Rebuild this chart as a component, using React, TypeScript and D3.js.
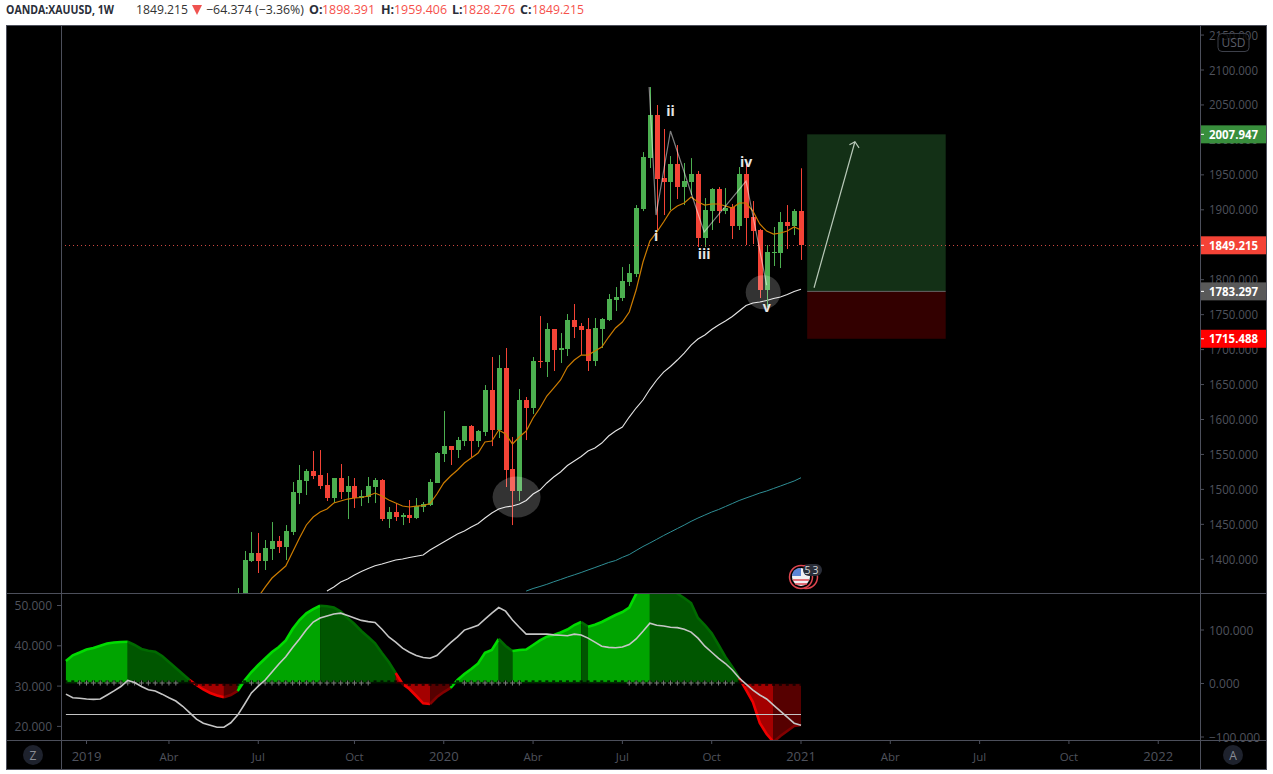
import React from "react";
import * as d3 from "d3";

const open_ = [1313.1,1334.6,1397.5,1409,1397.5,1414.7,1426.1,1417.6,1439,1494.8,1512,1526.3,1520.6,1506.2,1487.7,1516.3,1496.2,1504.8,1487.7,1489.1,1503.4,1513.4,1457.6,1467.6,1460.5,1463.3,1459,1474.8,1477.6,1509.2,1550.6,1562,1556.3,1569.2,1590.7,1569.2,1582.1,1642.2,1585,1673.7,1529.1,1497.7,1627.9,1616.4,1683.7,1682.2,1729.4,1699.4,1700.8,1742.3,1733.7,1729.4,1683.7,1729.4,1742.3,1771,1773.8,1796.7,1808.1,1901.1,1974,2035.6,1945.4,1939.7,1965.5,1932.6,1939.7,1951.2,1859.6,1898.2,1929.7,1898.2,1904,1876.8,1951.2,1889.7,1871.1,1785.2,1838.2,1838.2,1882.5,1876.8,1898.391];
const high = [1358.9,1411.9,1439,1437.6,1427.6,1453.3,1433.3,1449,1510.6,1534.9,1529.1,1554.9,1556.3,1523.4,1516.3,1536.3,1519.1,1516.3,1499.1,1517.7,1516.3,1514.8,1474.8,1480.5,1466.2,1484.8,1487.7,1482,1514.8,1553.5,1612.1,1562,1575,1590.7,1592.1,1585,1649.3,1689.4,1692.2,1702.3,1575,1643.6,1632.2,1689.4,1748,1738,1729.4,1723.7,1750.9,1765.2,1738,1745.2,1745.2,1745.2,1779.5,1789.5,1818.1,1822.4,1906.8,1982.6,2075.6,2049.9,2015.6,1976.9,1992.7,1966.9,1974,1955.5,1916.8,1931.1,1932.6,1931.1,1908.3,1961.2,1965.5,1912.5,1872.5,1849.6,1875.4,1896.8,1906.8,1901.1,1959.406];
const low = [1298.8,1324.6,1396.1,1380.4,1384.7,1399,1409,1399,1434.7,1479,1492,1514.8,1500.5,1483.4,1480.5,1486.2,1457.6,1473.4,1476.2,1480.5,1480.5,1454.8,1444.8,1454.8,1449,1451.9,1457.6,1467.6,1476.2,1509.2,1539.2,1534.9,1544.9,1562,1546.3,1560.6,1576.4,1562,1573.5,1503.4,1449,1483.4,1570.6,1607.8,1673.7,1660.8,1669.4,1680.8,1690.8,1716.6,1692.2,1669.4,1676.5,1702.3,1740.9,1755.2,1769.5,1791,1803.8,1898.2,1959.8,1871.1,1892.5,1899.7,1915.4,1906.8,1921.1,1846.8,1846.8,1871.1,1881.1,1893.9,1858.2,1871.1,1849.6,1851,1773.8,1760.9,1819.6,1816.7,1843.9,1863.9,1828.276];
const close_ = [1341.7,1399,1409,1397.5,1416.1,1426.1,1417.6,1440.4,1496.2,1513.4,1526.3,1519.1,1504.8,1487.7,1516.3,1496.2,1504.8,1487.7,1490.5,1504.8,1513.4,1457.6,1467.6,1460.5,1463.3,1459,1476.2,1479,1510.6,1552,1562,1556.3,1570.6,1590.7,1569.2,1583.5,1642.2,1585,1673.7,1527.7,1497.7,1627.9,1616.4,1683.7,1682.2,1729.4,1699.4,1702.3,1742.3,1732.3,1728,1683.7,1730.9,1743.8,1772.4,1775.2,1798.1,1809.6,1902.5,1975.5,2035.6,1944,1939.7,1965.5,1932.6,1941.2,1951.2,1859.6,1899.7,1929.7,1898.2,1902.5,1876.8,1951.2,1888.2,1869.6,1785.2,1839.6,1839.6,1882.5,1876.8,1898.2,1849.215];

const maFast = [1346,1360.3,1373.2,1381.8,1390.4,1410.4,1430.4,1449.1,1460.5,1467.6,1471.9,1480.5,1483.4,1486.2,1487.7,1488.4,1490.5,1494.8,1490.5,1484.8,1480.5,1476.2,1474.8,1476.2,1476.9,1479.8,1493.4,1509.2,1519.1,1527.7,1537.7,1544.9,1552,1567.8,1569.2,1585,1579.2,1565,1575,1583.5,1602.1,1616.4,1633.6,1645,1656.5,1675.1,1685.1,1692.2,1692.2,1698,1703.7,1718,1730.9,1739.5,1753.8,1785.2,1825.3,1855.3,1868.2,1882.5,1898.2,1905.4,1909.7,1918.3,1911.1,1906.8,1908.3,1908.3,1905.4,1902.5,1909.7,1909.7,1898.2,1879.7,1869.6,1865.3,1866.8,1869.6,1875.4,1871.1];
const maMid = [1354.6,1360.3,1367.5,1371.8,1377.5,1382.5,1386.8,1390.8,1393.2,1396.1,1399,1400.4,1402.5,1404.3,1406.1,1413.3,1419,1424.7,1430.4,1436.2,1440.4,1446.2,1451.2,1459,1466.2,1471.9,1474.8,1476.2,1479,1484.1,1493.4,1499.1,1509.2,1517.7,1524.9,1534.2,1540.6,1547,1554.9,1559.2,1566.3,1576.4,1583.5,1589.2,1603.5,1616.4,1627.9,1643.2,1656.5,1667.9,1675.8,1685.1,1695.1,1706.5,1715.1,1720.9,1728.7,1735.2,1740.9,1747.3,1755.2,1763.1,1766.6,1768.1,1770.2,1773.1,1775.2,1778.8,1783.1,1786.2];
const maSlow = [1354.6,1358.2,1361.1,1364.2,1367.8,1371.1,1374.6,1377.8,1381.1,1384.7,1388.2,1391.8,1395.4,1398.2,1402.8,1406.8,1412.6,1418.3,1423.3,1428.6,1434,1439,1444,1449,1454.3,1459,1463.3,1467.6,1471.2,1475.5,1479.8,1484.1,1487.7,1491.2,1494.8,1497.7,1501.3,1504.8,1508.4,1512,1516.7];

const momentum = [42.1,52.7,57.9,63.5,66.3,70.5,74.8,76.6,77.6,78.1,72,64.5,61.3,59.4,51.4,40.2,29,17.8,6.5,-2.8,-11.2,-17.8,-22.4,-25.8,-21.5,-14,5.6,21.5,34.6,46.7,58.9,68.2,80.4,101.9,118.7,131.2,139.2,145.4,144.3,142,134.6,122.4,111.2,98.1,86.9,75.1,57,40.2,19.6,-0.5,-10.3,-23.4,-37,-38.3,-25.2,-15.9,-8.4,6.5,17.8,27.1,37.4,57.6,62.6,83.2,70.1,60.7,62.6,63.5,72,80.4,87.5,90.6,95.3,100.9,109.3,114.9,106.2,109.7,114.9,121.5,128,133.6,142,167.3,187.8,199,197.2,193.4,184.1,168.2,159.8,150.5,122.4,109.3,93.8,72,49.5,30.8,10.3,-12.1,-34.6,-73.8,-94.4,-109.3,-98.1,-88.8,-79.4,-77.6];
const adx = [28,27.1,27,26.8,26.7,26.8,27.8,28.8,29.9,31.4,30.9,29.9,29.1,28.8,28,27.1,26.3,25,23.4,21.8,20.8,20.3,19.8,19.8,20.9,22.8,25.5,28.3,30,31.5,33.5,35.5,37.3,39.6,41.7,44,45.9,46.9,47.4,47.9,48.1,47.5,46.9,46.3,46,45.8,44.1,42.2,40.9,39.4,38.4,37.6,37.1,36.9,37.6,39.2,40.8,42.2,43.9,44.5,45.1,46.6,48.1,49.5,48.6,46.4,44.6,42.9,42.9,42.9,42.9,42.7,42.6,42.5,42.9,42.7,41.9,40.9,39.9,39.6,39.5,39.7,40.3,41.7,43.6,45.6,45.1,44.9,44.6,44.5,44.1,43.4,41.9,39.9,38.4,36.9,35.6,34,32,30.5,29,27.8,26.8,25.3,23.8,22.3,20.8,20.3];
const adxKeyLevel = 23;
const squeezeOff = [[-23,-9],[2,19],[33,41],[57,72]];

const priceTicks = [2150,2100,2050,2000,1950,1900,1850,1800,1750,1700,1650,1600,1550,1500,1450,1400];
const adxTicks = [50,40,30,20];
const momTicks = [100,0,-100];
const timeTicks: [number,string][] = [[-22,"2019"],[-10,"Abr"],[3,"Jul"],[17,"Oct"],[30,"2020"],[43,"Abr"],[56,"Jul"],[69,"Oct"],[82,"2021"],[95,"Abr"],[108,"Jul"],[121,"Oct"],[134,"2022"]];

const waveIdx = [59.9,60.9,63,67.9,74,77];
const wavePrice = [2075.6,1892.5,2012.7,1868.2,1941.2,1792.4];
const waveLabels: [number,number,string][] = [[60.9,1856,"i"],[63,2034,"ii"],[67.9,1829.6,"iii"],[74,1961,"iv"],[77,1753.5,"v"]];

const lastPrice = 1849.215, target = 2007.947, entry = 1783.297, stop = 1715.488;

const FONT = "'Open Sans', sans-serif";
const W = 1273, H = 774;
const L = 61, R = 1200, T = 25, MID = 593, BOT = 740, END = 770, FL = 6, FR = 1267;
const BORDER = "#4c4f5b", DIM = "#4f525c";
const GREEN = "#4caf50", RED = "#f44336";

export default function App() {
  const x = d3.scaleLinear().domain([0, 82]).range([237.66, 801]);
  const y = d3.scaleLinear().domain([2100, 1400]).range([70, 559.3]);
  const yA = d3.scaleLinear().domain([50, 20]).range([605.5, 726.4]);
  const yM = d3.scaleLinear().domain([100, -100]).range([630, 737]);

  const endLine = (arr: number[]) =>
    d3.line<number>().x((_, i) => x(82 - arr.length + 1 + i)).y((d) => y(d)).curve(d3.curveLinear)(arr) || "";

  const oscI = (i: number) => 82 - momentum.length + 1 + i;
  const zero = yM(0);

  const colorOf = (i: number) => {
    const v = momentum[i], p = i > 0 ? momentum[i - 1] : v - 1;
    if (v >= 0) return v >= p ? 0 : 1;
    return v < p ? 2 : 3;
  };
  const fills = ["#00a400", "#005600", "#a40000", "#560000"];
  const strokes = ["#00dc00", "#006a00", "#f00000", "#820000"];

  type Seg = { c: number; from: number; to: number };
  const segs: Seg[] = [];
  for (let i = 1; i < momentum.length; i++) {
    const c = colorOf(i);
    const last = segs[segs.length - 1];
    if (last && last.c === c) last.to = i;
    else segs.push({ c, from: i - 1, to: i });
  }
  const idxs = (s: Seg) => d3.range(s.from, s.to + 1);
  const segArea = d3.area<number>().x((i) => x(oscI(i))).y0(zero).y1((i) => yM(momentum[i]));
  const segLine = d3.line<number>().x((i) => x(oscI(i))).y((i) => yM(momentum[i]));
  const adxLine = d3.line<number>().x((_, i) => x(oscI(i))).y((d) => yA(d))(adx) || "";
  const waveLine = d3.line<number>().x((d) => x(d)).y((_, i) => y(wavePrice[i]))(waveIdx) || "";

  const tag = (p: number, fill: string, label: string) => (
    <g key={label}>
      <rect x={R} y={y(p) - 9} width={FR - R} height={18} fill={fill} />
      <line x1={R} x2={R + 4} y1={y(p)} y2={y(p)} stroke="#fff" />
      <text x={1209} y={y(p) + 4.5} fill="#fff" fontSize={12} fontWeight={700} fontFamily={FONT} textLength={49} lengthAdjust="spacingAndGlyphs">{label}</text>
    </g>
  );

  return (
    <svg width={W} height={H} style={{ position: "fixed", left: 0, top: 0, background: "#fff" }}>
      <defs>
        <clipPath id="mainClip"><rect x={L} y={T} width={R - L} height={MID - T} /></clipPath>
        <clipPath id="oscClip"><rect x={L} y={MID} width={R - L} height={BOT - MID} /></clipPath>
      </defs>

      {/* header */}
      <g fontFamily={FONT} fontSize={12.5}>
        <text x={6} y={14} fontWeight={700} fill="#2a2e39" textLength={108} lengthAdjust="spacingAndGlyphs">OANDA:XAUUSD, 1W</text>
        <text x={136} y={14} fill="#333" textLength={52} lengthAdjust="spacingAndGlyphs">1849.215</text>
        <path d="M192,5 h10 l-5,10 z" fill="#ef5350" />
        <text x={206} y={14} fill="#333" textLength={98} lengthAdjust="spacingAndGlyphs">−64.374 (−3.36%)</text>
        <text x={309} y={14} fontWeight={700} fill="#2a2e39">O:</text>
        <text x={322} y={14} fill="#f6514b" textLength={53} lengthAdjust="spacingAndGlyphs">1898.391</text>
        <text x={381} y={14} fontWeight={700} fill="#2a2e39">H:</text>
        <text x={394} y={14} fill="#f6514b" textLength={53} lengthAdjust="spacingAndGlyphs">1959.406</text>
        <text x={452} y={14} fontWeight={700} fill="#2a2e39">L:</text>
        <text x={462} y={14} fill="#f6514b" textLength={53} lengthAdjust="spacingAndGlyphs">1828.276</text>
        <text x={520} y={14} fontWeight={700} fill="#2a2e39">C:</text>
        <text x={532} y={14} fill="#f6514b" textLength={52} lengthAdjust="spacingAndGlyphs">1849.215</text>
      </g>

      {/* frame */}
      <rect x={FL} y={T} width={FR - FL} height={END - T} fill="#000" />

      {/* main pane */}
      <g clipPath="url(#mainClip)">
        <rect x={x(82.9)} y={y(target)} width={x(103.06) - x(82.9)} height={y(entry) - y(target)} fill="#133016" />
        <rect x={x(82.9)} y={y(entry)} width={x(103.06) - x(82.9)} height={y(stop) - y(entry)} fill="#330000" />
        <line x1={x(82.9)} x2={x(103.06)} y1={y(entry)} y2={y(entry)} stroke="#666" strokeWidth={1} />

        <path d={endLine(maSlow)} fill="none" stroke="#2f8f96" strokeWidth={1} />
        <path d={endLine(maMid)} fill="none" stroke="#e4e4e4" strokeWidth={1.1} />

        {open_.map((o, i) => {
          const c = close_[i];
          const col = c >= o ? GREEN : RED;
          const cx = Math.round(x(i));
          const top = Math.round(y(Math.max(o, c)));
          const bot = Math.round(y(Math.min(o, c)));
          return (
            <g key={i}>
              <rect x={cx} y={y(high[i])} width={1} height={y(low[i]) - y(high[i])} fill={col} />
              <rect x={cx - 2} y={top} width={5} height={Math.max(1, bot - top)} fill={col} />
            </g>
          );
        })}

        <path d={endLine(maFast)} fill="none" stroke="#cc7c00" strokeWidth={1.2} />

        <line x1={L} x2={R} y1={Math.round(y(lastPrice)) + 0.5} y2={Math.round(y(lastPrice)) + 0.5} stroke="#f2554d" strokeWidth={1} strokeDasharray="1 3" opacity={0.85} />

        <path d={waveLine} fill="none" stroke="#fff" strokeOpacity={0.5} strokeWidth={1.2} />
        <ellipse cx={x(40.6)} cy={y(1489)} rx={24} ry={20.5} fill="#fff" fillOpacity={0.2} />
        <ellipse cx={x(76.5)} cy={y(1782)} rx={17.5} ry={17} fill="#fff" fillOpacity={0.2} />

        {/* projected move */}
        <path d={`M${x(83.9)},${y(1788.5)} L${x(89.85)},${y(1997.4)}`} fill="none" stroke="#b9c9b9" strokeWidth={1.2} />
        <path d={`M${x(89.05)},${y(1993)} L${x(89.85)},${y(1997.4)} L${x(90.45)},${y(1988.5)}`} fill="none" stroke="#b9c9b9" strokeWidth={1.2} />

        {waveLabels.map(([i, p, t]) => (
          <text key={t} x={x(i)} y={y(p)} textAnchor="middle" fill="#e6e6e6" fontSize={14} fontWeight={700} fontFamily={FONT}>{t}</text>
        ))}

        {/* event badge */}
        <circle cx={806} cy={577} r={11.5} fill="none" stroke="#e0454f" strokeWidth={1.5} />
        <circle cx={801} cy={577} r={11.5} fill="#000" stroke="#e0454f" strokeWidth={1.5} />
        <circle cx={801} cy={577} r={9} fill="#f1f1f4" />
        <path d="M793,580 h16 M795,584 h12" stroke="#e0454f" strokeWidth={1.6} />
        <path d="M793,572 a9,9 0 0 1 8,-4 v8 h-9 z" fill="#5b86d6" />
        <rect x={803} y={564} width={19} height={12} rx={6} fill="#2a2e39" />
        <text x={812.5} y={574} textAnchor="middle" fill="#d8d8d8" fontSize={10.5} fontFamily={FONT} letterSpacing={2}>53</text>
      </g>

      {/* oscillator pane */}
      <g clipPath="url(#oscClip)">
        {segs.map((s, k) => (
          <path key={k} d={segArea(idxs(s)) || ""} fill={fills[s.c]} />
        ))}
        {segs.map((s, k) => (
          <path key={k} d={segLine(idxs(s)) || ""} fill="none" stroke={strokes[s.c]} strokeWidth={2.6} />
        ))}
        <rect x={x(oscI(0))} y={zero - 1.6} width={x(82) - x(oscI(0))} height={2.2} fill="#000" fillOpacity={0.72} />
        {momentum.map((v, i) => (
          <rect key={i} x={x(oscI(i)) - 1.5} y={v >= 0 ? zero - 3.2 : zero + 0.6} width={3} height={1.7} fill="#000" fillOpacity={0.78} />
        ))}
        {squeezeOff.map(([a, b]) =>
          d3.range(a, b + 1).map((i) => (
            <path key={i} d={`M${x(i) - 2.5},${zero - 0.5} h5 M${x(i)},${zero - 3} v5`} stroke="#7d7d7d" strokeWidth={1} />
          ))
        )}
        <line x1={x(oscI(0))} x2={x(82)} y1={Math.round(yA(adxKeyLevel)) + 0.5} y2={Math.round(yA(adxKeyLevel)) + 0.5} stroke="#c4c4c4" strokeWidth={1} />
        <path d={adxLine} fill="none" stroke="#c6c6c6" strokeWidth={1.6} />
      </g>

      {/* axes */}
      <g fontFamily={FONT} fontSize={12} fill={DIM}>
        {priceTicks.map((p) => (
          <g key={p}>
            <line x1={R} x2={R + 4} y1={y(p)} y2={y(p)} stroke={BORDER} />
            <text x={1209} y={y(p) + 4.5} textLength={49} lengthAdjust="spacingAndGlyphs">{p.toFixed(3)}</text>
          </g>
        ))}
        {momTicks.map((p) => (
          <g key={p}>
            <line x1={R} x2={R + 4} y1={yM(p)} y2={yM(p)} stroke={BORDER} />
            <text x={1209} y={yM(p) + 4.5}>{p < 0 ? "−" + Math.abs(p).toFixed(3) : p.toFixed(3)}</text>
          </g>
        ))}
        {adxTicks.map((p) => (
          <g key={p}>
            <line x1={L - 4} x2={L} y1={yA(p)} y2={yA(p)} stroke={BORDER} />
            <text x={52} y={yA(p) + 4.5} textAnchor="end">{p.toFixed(3)}</text>
          </g>
        ))}
      </g>

      {tag(target, "#388e3c", target.toFixed(3))}
      {tag(lastPrice, "#f44336", lastPrice.toFixed(3))}
      {tag(entry, "#595959", entry.toFixed(3))}
      {tag(stop, "#ff0000", stop.toFixed(3))}

      {/* USD button */}
      <rect x={1218} y={33.5} width={31} height={18} rx={4} fill="#000" fillOpacity={0.75} stroke="#3d404a" />
      <text x={1233.5} y={46.5} textAnchor="middle" fill="#5b5e68" fontSize={12} fontFamily={FONT}>USD</text>

      {/* time axis */}
      <g fontFamily={FONT} fill={DIM}>
        {timeTicks.map(([i, t]) => (
          <g key={t + i}>
            <line x1={x(i)} x2={x(i)} y1={BOT} y2={BOT + 4} stroke={BORDER} />
            <text x={x(i)} y={761} textAnchor="middle" fontSize={/^\d/.test(t) ? 13 : 11.5}>{t}</text>
          </g>
        ))}
      </g>

      {/* pane borders */}
      <g stroke={BORDER} strokeWidth={1} fill="none" shapeRendering="crispEdges">
        <rect x={FL + 0.5} y={T + 0.5} width={FR - FL - 1} height={END - T - 1} />
        <line x1={L + 0.5} x2={L + 0.5} y1={T} y2={END} />
        <line x1={R + 0.5} x2={R + 0.5} y1={T} y2={END} />
        <line x1={FL} x2={FR} y1={MID + 0.5} y2={MID + 0.5} />
        <line x1={FL} x2={FR} y1={BOT + 0.5} y2={BOT + 0.5} />
      </g>

      {/* scale buttons */}
      <circle cx={33} cy={755} r={10} fill="#1e222d" />
      <text x={33} y={759.5} textAnchor="middle" fill="#8a8d96" fontSize={12} fontFamily={FONT}>Z</text>
      <circle cx={1233} cy={755} r={10} fill="#1e222d" />
      <text x={1233} y={759.5} textAnchor="middle" fill="#8a8d96" fontSize={12} fontFamily={FONT}>A</text>
    </svg>
  );
}
